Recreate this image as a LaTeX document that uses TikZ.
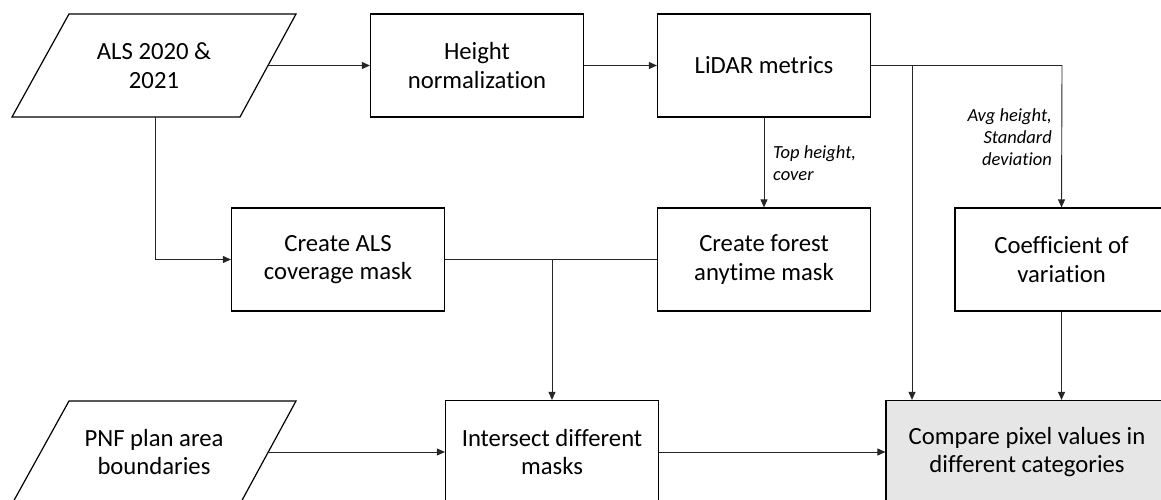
\documentclass[tikz,border=0pt]{standalone}
\usepackage{fontspec}
\setmainfont{Carlito}[Ligatures={NoCommon}]
\usetikzlibrary{arrows.meta}
\definecolor{boxgray}{HTML}{E7E6E6}
\begin{document}
\begin{tikzpicture}[x=1pt,y=-1pt,
  box/.style={draw=black,line width=1.2pt,minimum width=213pt,minimum height=103pt,
              align=center,inner sep=0pt,font=\fontsize{24.7}{28.5}\selectfont},
  iotext/.style={inner sep=0pt,align=center,font=\fontsize{24.7}{28.5}\selectfont},
  ioshape/.style={draw=black,line width=1.2pt},
  conn/.style={line width=0.9pt,draw=black!85},
  arr/.style={conn,-{Triangle[length=8pt,width=7pt]}},
  note/.style={inner sep=0pt,font=\fontsize{18.5}{22}\selectfont\itshape}]
\useasboundingbox (0,0) rectangle (1161,500);
\clip (0,0) rectangle (1161,500);

% input data (parallelograms)
\draw[ioshape] (69,14) -- (296,14) -- (240,117) -- (12,117) -- cycle;
\node[iotext] (als) at (154,65.5) {ALS 2020 \&\\2021};
\coordinate (alsR) at (268,65.5);
\coordinate (alsB) at (155,117);

\draw[ioshape] (69,401) -- (296,401) -- (240,504) -- (12,504) -- cycle;
\node[iotext] (pnf) at (154,452) {PNF plan area\\boundaries};
\coordinate (pnfR) at (268,452);

% processing steps
\node[box] (hn)     at (477,65.5)    {Height\\normalization};
\node[box] (lid)    at (764,65.5)    {LiDAR metrics};
\node[box] (cov)    at (338,259.5)   {Create ALS\\coverage mask};
\node[box] (forest) at (764,259.5)   {Create forest\\anytime mask};
\node[box] (cv)     at (1061.5,259.5){Coefficient of\\variation};
\node[box] (inter)  at (552,452)     {Intersect different\\masks};
\node[box,fill=boxgray,minimum width=282pt] (cmp) at (1027,452)
      {Compare pixel values in\\different categories};

% junctions
\coordinate (split) at (912,65.5);
\coordinate (turn)  at (1062,65.5);
\coordinate (join)  at (552,259.5);

% connectors
\draw[arr] (alsR) -- (hn.west);
\draw[arr] (hn.east) -- (lid.west);
\draw[arr] (lid.south) -- (forest.north);
\draw[arr] (lid.east) -- (turn) -- (cv.north);
\draw[arr] (split) -- (split |- cmp.north);
\draw[arr] (alsB) |- (cov.west);
\draw[conn] (cov.east) -- (forest.west);
\draw[arr] (join) -- (inter.north);
\draw[arr] (pnfR) -- (inter.west);
\draw[arr] (inter.east) -- (cmp.west);
\draw[arr] (cv.south) -- (cv.south |- cmp.north);

% labels on connectors
\node[note,anchor=west,align=left] (lTop) at (773,163.5) {Top height,\\cover};
\node[note,anchor=east,align=right] (lAvg) at (1052,137) {Avg height,\\Standard\hspace{4pt}\\deviation};
\end{tikzpicture}
\end{document}
